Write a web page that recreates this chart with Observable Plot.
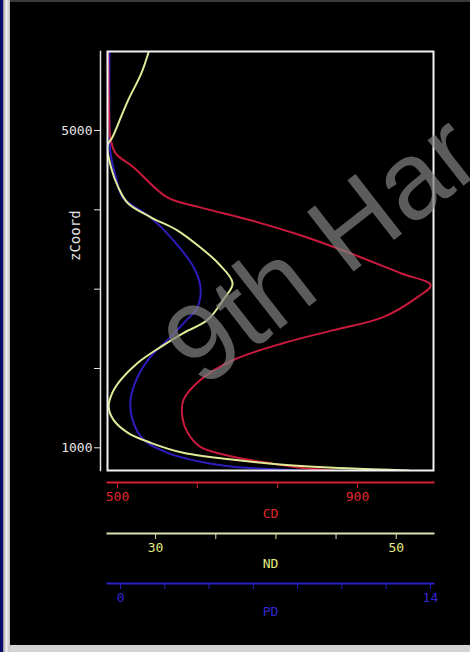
<!DOCTYPE html>
<html>
<head>
<meta charset="utf-8">
<script src="https://cdn.jsdelivr.net/npm/d3@7"></script>
<script src="https://cdn.jsdelivr.net/npm/@observablehq/plot@0.6"></script>
<style>
  html, body { margin: 0; padding: 0; background: #000; }
  #win { position: relative; width: 470px; height: 652px; background: #000; overflow: hidden; }
  #win > svg { position: absolute; left: 0; }
  .edge-top { position: absolute; left: 0; top: 0; width: 470px; height: 2px; background: #3a3a3a; }
  .edge-blue { position: absolute; left: 0; top: 0; width: 3px; height: 652px; background: #0a0a6e; }
  .edge-bar { position: absolute; left: 3px; top: 0; width: 7px; height: 652px;
              background: linear-gradient(to right, #8c8c8c, #f2f2f2 45%, #bdbdbd); }
  .edge-bottom { position: absolute; left: 10px; top: 645px; width: 460px; height: 7px; background: #d4d4d4; }
  #wm { position: absolute; left: 0; top: 0; pointer-events: none; }
</style>
</head>
<body>
<div id="win">
  <div class="edge-top"></div>
  <div class="edge-blue"></div>
  <div class="edge-bar"></div>
  <div class="edge-bottom"></div>
</div>
<script>
// Vertical profiles against zCoord
const zCD = [5990, 5600, 5200, 4912, 4711, 4535, 4157, 4031, 3868, 3679, 3453, 3201, 3050, 2899, 2648, 2484, 2321, 2107, 1855, 1604, 1390, 1189, 1012, 887, 811, 748, 714];
const cdValues = [484, 485, 486, 488, 497, 527, 583, 638, 722, 805, 888, 972, 1022, 1000, 943, 860, 777, 693, 638, 610, 608, 617, 638, 693, 750, 805, 860];

const zND = [5981, 5717, 5377, 5088, 4912, 4811, 4535, 4283, 4082, 3906, 3742, 3528, 3327, 3075, 2862, 2610, 2446, 2270, 2069, 1855, 1692, 1516, 1352, 1189, 1063, 937, 849, 786, 748, 714];
const ndValues = [29.4, 28.8, 27.7, 26.9, 26.4, 26.0, 26.3, 26.9, 27.7, 29.6, 31.8, 33.7, 35.2, 36.4, 35.6, 34.3, 32.3, 30.4, 28.5, 27.1, 26.4, 26.1, 26.5, 27.7, 29.6, 32.3, 36.5, 40.6, 44.8, 51.0];

const zPD = [5990, 5000, 4711, 4400, 4157, 3906, 3616, 3277, 3025, 2774, 2572, 2358, 2145, 1893, 1604, 1352, 1101, 937, 824, 761, 714];
const pdValues = [-0.5, -0.5, -0.45, -0.2, 0.1, 1.35, 2.39, 3.30, 3.61, 3.48, 2.85, 2.12, 1.35, 0.77, 0.45, 0.54, 1.04, 2.12, 3.61, 5.10, 8.1];

// Axis ticks and which of them carry a label
const zTicks = [1000, 2000, 3000, 4000, 5000];
const zLabeled = [1000, 5000];
const cdTicks = [500, 633, 767, 900];
const cdLabeled = [500, 900];
const ndTicks = [30, 35, 40, 45, 50];
const ndLabeled = [30, 50];
const pdTicks = [0, 2, 4, 6, 8, 10, 12, 14];
const pdLabeled = [0, 14];

// Scale extents
const zDomain = [714, 5996];
const cdDomain = [483.3, 1026.7];
const ndDomain = [26.0, 53.1];
const pdDomain = [-0.59, 14.14];

const W = 470, ML = 107, MR = 37;
const win = document.getElementById("win");
const font = {fontFamily: "'DejaVu Sans Mono', monospace", fontSize: "13px", background: "transparent", overflow: "visible"};

function place(svg, top) {
  svg.style.top = top + "px";
  win.appendChild(svg);
}

function rows(zs, vs) { return zs.map((z, i) => ({z, v: vs[i]})); }

// One overlay per variable, all sharing the same z scale and plot frame
function curvePlot(domain, data, stroke, extra = []) {
  return Plot.plot({
    width: W, height: 480, marginLeft: ML, marginRight: MR, marginTop: 51, marginBottom: 10,
    x: {domain, axis: null},
    y: {domain: zDomain, axis: null},
    style: font,
    marks: [
      Plot.line(data, {x: "v", y: "z", stroke, strokeWidth: 2, curve: "catmull-rom", clip: true}),
      ...extra
    ]
  });
}

place(curvePlot(pdDomain, rows(zPD, pdValues), "#2c1cbc"), 0);
place(curvePlot(cdDomain, rows(zCD, cdValues), "#c81a3c"), 0);
place(curvePlot(ndDomain, rows(zND, ndValues), "#e2ea98",
  [Plot.frame({stroke: "#f2f2f2", strokeWidth: 2})]), 0);

// zCoord axis, set slightly apart from the frame
place(Plot.plot({
  width: 104, height: 480, marginLeft: 100, marginRight: 4, marginTop: 51, marginBottom: 10,
  y: {domain: zDomain},
  style: font,
  marks: [
    Plot.frame({anchor: "left", stroke: "#e6e6e6", strokeWidth: 1.5}),
    Plot.axisY(zTicks, {anchor: "left", tickSize: 6, tickPadding: 2, color: "#e6e6e6", label: null,
      tickFormat: d => zLabeled.includes(d) ? String(d) : ""}),
    Plot.text(["zCoord"], {frameAnchor: "left", rotate: -90, dx: -25, fill: "#e6e6e6", fontSize: 14})
  ]
}), 0);

// Stacked x axes below the frame, one per variable
function axisPlot(lineY, domain, ticks, labeled, lineColor, textColor, title, titleDy) {
  const svg = Plot.plot({
    width: W, height: 50, marginLeft: ML, marginRight: MR, marginTop: 2, marginBottom: 48,
    x: {domain},
    style: font,
    marks: [
      Plot.frame({anchor: "bottom", stroke: lineColor, strokeWidth: 2}),
      Plot.axisX(ticks, {anchor: "bottom", tickSize: 6, tickPadding: 3, stroke: lineColor, fill: textColor,
        label: null, tickFormat: d => labeled.includes(d) ? String(d) : ""}),
      Plot.text([title], {frameAnchor: "bottom", dy: titleDy, fill: textColor})
    ]
  });
  place(svg, lineY - 2);
}

axisPlot(482, cdDomain, cdTicks, cdLabeled, "#d42030", "#e0282c", "CD", 35);
axisPlot(533, ndDomain, ndTicks, ndLabeled, "#dfe2b0", "#e4ec80", "ND", 34);
axisPlot(583, pdDomain, pdTicks, pdLabeled, "#2a1ec8", "#3326d6", "PD", 32);

// Watermark across the plot
const ns = "http://www.w3.org/2000/svg";
const wm = document.createElementNS(ns, "svg");
wm.setAttribute("id", "wm");
wm.setAttribute("width", W);
wm.setAttribute("height", 652);
const t = document.createElementNS(ns, "text");
t.setAttribute("x", 202);
t.setAttribute("y", 390);
t.setAttribute("transform", "rotate(-38 202 390)");
t.setAttribute("font-family", "'Liberation Sans', Arial, sans-serif");
t.setAttribute("font-size", 110);
t.setAttribute("fill", "#808080");
t.setAttribute("fill-opacity", 0.72);
t.textContent = "9th Har";
wm.appendChild(t);
win.appendChild(wm);
</script>
</body>
</html>
